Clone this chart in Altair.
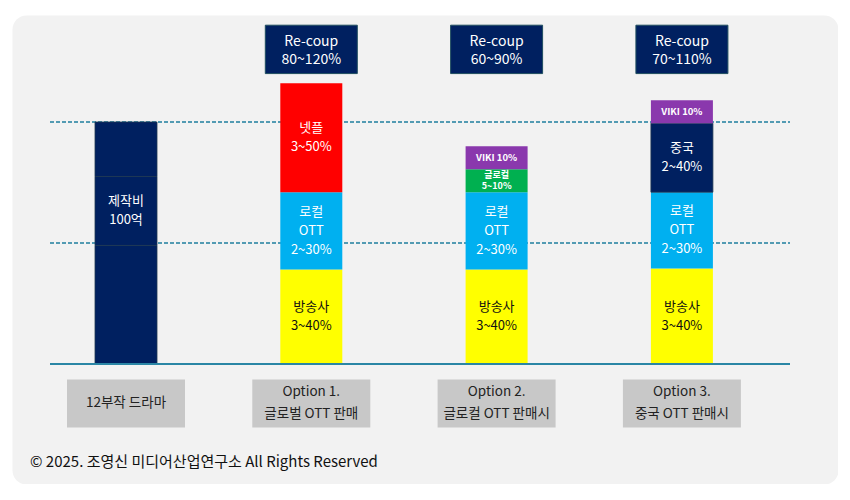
import altair as alt
import pandas as pd

FONT = "Noto Sans CJK KR"

# categories (x positions) and their bottom captions
cats = ["drama", "opt1", "opt2", "opt3"]
box_labels = ["12부작 드라마", "Option 1.\n글로벌 OTT 판매", "Option 2.\n글로컬 OTT 판매시", "Option 3.\n중국 OTT 판매시"]

# re-coup boxes
recoup_cats = ["opt1", "opt2", "opt3"]
recoup_labels = ["Re-coup\n80~120%", "Re-coup\n60~90%", "Re-coup\n70~110%"]

# stacked segments (bottom to top)
seg_cat = ["drama", "drama", "drama",
           "opt1", "opt1", "opt1",
           "opt2", "opt2", "opt2", "opt2",
           "opt3", "opt3", "opt3", "opt3"]
seg_type = ["제작비", "제작비", "제작비",
            "방송사", "로컬 OTT", "넷플",
            "방송사", "로컬 OTT", "글로컬", "VIKI",
            "방송사", "로컬 OTT", "중국", "VIKI"]
seg_val = [49, 28.5, 22.5,
           39, 32, 45,
           39, 32, 9.5, 9.5,
           39.5, 31.5, 28.5, 9.5]
seg_label = ["", "제작비\n100억", "",
             "방송사\n3~40%", "로컬\nOTT\n2~30%", "넷플\n3~50%",
             "방송사\n3~40%", "로컬\nOTT\n2~30%", "글로컬\n5~10%", "VIKI 10%",
             "방송사\n3~40%", "로컬\nOTT\n2~30%", "중국\n2~40%", "VIKI 10%"]

ref_vals = [100, 50]
footer = ["© 2025. 조영신 미디어산업연구소 All Rights Reserved"]

type_domain = ["제작비", "방송사", "로컬 OTT", "넷플", "글로컬", "VIKI", "중국"]
type_colors = ["#002060", "#ffff00", "#00b0f0", "#ff0000", "#00b050", "#8a38ad", "#002060"]

seg = pd.DataFrame({"cat": seg_cat, "type": seg_type, "val": seg_val, "label": seg_label})
seg["upper"] = seg.groupby("cat")["val"].cumsum()
seg["lower"] = seg["upper"] - seg["val"]
seg["mid"] = (seg["upper"] + seg["lower"]) / 2
seg["n"] = seg["label"].str.count("\n") + 1
seg["small"] = seg["type"].isin(["VIKI", "글로컬"])

boxes = pd.DataFrame({"cat": cats, "label": box_labels})
boxes["n"] = boxes["label"].str.count("\n") + 1
recoup = pd.DataFrame({"cat": recoup_cats, "label": recoup_labels})
refs = pd.DataFrame({"v": ref_vals})
base = pd.DataFrame({"v": [0]})
foot = pd.DataFrame({"t": footer})

xscale = alt.Scale(domain=cats, paddingInner=0, paddingOuter=0.2288, align=0.2518)
yscale = alt.Scale(domain=[-49.59, 144.21], nice=False, zero=False)
X = alt.X("cat:N", scale=xscale, axis=None)

refs_layer = alt.Chart(refs).mark_rule(strokeDash=[4, 2], color="#1f7f9f", strokeWidth=1.5).encode(
    y=alt.Y("v:Q", scale=yscale, axis=None), x=alt.value(38), x2=alt.value(778))

bars = alt.Chart(seg).mark_bar(width=62, strokeWidth=0.8).encode(
    x=X,
    y=alt.Y("lower:Q", scale=yscale, axis=None),
    y2="upper:Q",
    color=alt.Color("type:N", scale=alt.Scale(domain=type_domain, range=type_colors), legend=None),
    stroke=alt.condition("datum.type == '제작비' || datum.type == '중국'", alt.value("#203850"), alt.value("transparent")),
)

LH = 19
label_layers = []
for n in sorted(seg.loc[~seg["small"], "n"].unique()):
    label_layers.append(
        alt.Chart(seg).transform_filter(
            f"!datum.small && datum.n == {n} && datum.label != ''"
        ).mark_text(font=FONT, fontSize=13, lineBreak="\n", lineHeight=LH, baseline="middle",
                    dy=-(n - 1) * LH / 2).encode(
            x=X,
            y=alt.Y("mid:Q", scale=yscale, axis=None),
            text="label:N",
            color=alt.condition("datum.type == '방송사'", alt.value("#111111"), alt.value("#ffffff")),
        )
    )
SLH = 11
for n in sorted(seg.loc[seg["small"], "n"].unique()):
    label_layers.append(
        alt.Chart(seg).transform_filter(
            f"datum.small && datum.n == {n}"
        ).mark_text(font=FONT, fontSize=9 if n > 1 else 9.5, fontWeight="bold", lineBreak="\n", lineHeight=SLH,
                    color="#ffffff", baseline="middle", dy=-(n - 1) * SLH / 2).encode(
            x=X,
            y=alt.Y("mid:Q", scale=yscale, axis=None),
            text="label:N",
        )
    )

baseline_layer = alt.Chart(base).mark_rule(color="#2a86a5", strokeWidth=2).encode(
    y=alt.Y("v:Q", scale=yscale, axis=None), x=alt.value(38), x2=alt.value(778))

recoup_boxes = alt.Chart(recoup).mark_bar(width=92, color="#002060", stroke="#1f4e5f", strokeWidth=1).encode(
    x=X, y=alt.datum(120, scale=yscale), y2=alt.datum(140))

recoup_text = alt.Chart(recoup).mark_text(font=FONT, fontSize=14, lineBreak="\n", lineHeight=18,
                                          color="#ffffff", baseline="middle", dy=-7).encode(
    x=X, y=alt.datum(130), text="label:N")

bottom_boxes = alt.Chart(boxes).mark_bar(width=118, color="#c8c8c8").encode(
    x=X, y=alt.datum(-6.4), y2=alt.datum(-26.2))

BLH = 22
bottom_layers = []
for n in sorted(boxes["n"].unique()):
    bottom_layers.append(
        alt.Chart(boxes).transform_filter(f"datum.n == {n}").mark_text(
            font=FONT, fontSize=13.5, lineBreak="\n", lineHeight=BLH, color="#222222",
            baseline="middle", dy=-(n - 1) * BLH / 2).encode(
            x=X, y=alt.datum(-16.3), text="label:N")
    )

footer_text = alt.Chart(foot).mark_text(font=FONT, fontSize=15, align="left", baseline="middle", color="#111111").encode(
    x=alt.value(18), y=alt.value(447), text="t:N")

chart = alt.layer(
    refs_layer, bars, *label_layers, baseline_layer,
    recoup_boxes, recoup_text, bottom_boxes, *bottom_layers, footer_text
).properties(
    width=826, height=469,
    autosize=alt.AutoSizeParams(type="none"),
    padding={"left": 4, "top": 7, "right": 0, "bottom": 0},
    background="#ffffff",
).configure_view(fill="#f2f2f2", cornerRadius=14, stroke="transparent")

chart.save("out.html", embed_options={"renderer": "svg", "actions": False})
